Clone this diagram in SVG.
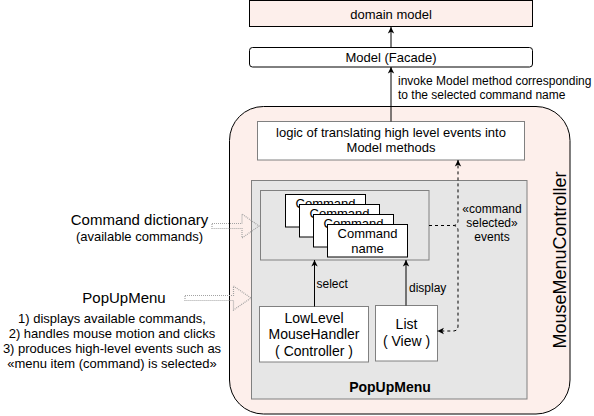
<svg xmlns="http://www.w3.org/2000/svg" width="594" height="416" viewBox="0 0 594 416">
<style>
text{font-family:"Liberation Sans",Arial,Helvetica,sans-serif;fill:#000}
.c{text-anchor:middle}
.t13{font-size:13px}
.t12{font-size:12px}
.t14{font-size:14px}
.box{fill:#fff;stroke:#000;stroke-width:1}
.gbox{fill:#fff;stroke:#808080;stroke-width:1}
.grey{fill:#e6e6e6;stroke:#808080;stroke-width:1}
.pink{fill:#fdefeb;stroke:#000;stroke-width:1}
.edge{fill:none;stroke:#000;stroke-width:1}
.dash{fill:none;stroke:#000;stroke-width:1;stroke-dasharray:3 3}
.hollow{fill:none;stroke:#a3a3a3;stroke-width:1.2;stroke-dasharray:1 1}
</style>
<defs>
<marker id="arr" viewBox="0 0 10 10" refX="9" refY="5" markerWidth="8" markerHeight="8" markerUnits="userSpaceOnUse" orient="auto">
<path d="M1,1 L9,5 L1,9 L3,5 z" fill="#000"/>
</marker>
</defs>

<g id="domain-model">
<rect class="pink" x="249.5" y="0.5" width="283" height="26"/>
<text class="c t13" x="391" y="19">domain model</text>
</g>

<g id="model-facade">
<rect class="box" x="249.5" y="47.5" width="283" height="19.5" rx="3"/>
<text class="c t13" x="391" y="62">Model (Facade)</text>
</g>

<g id="mouse-menu-controller">
<rect class="pink" x="229.5" y="106.5" width="340.5" height="307.5" rx="34"/>
<text transform="translate(566,260) rotate(-90)" class="c" style="font-size:18px" x="0" y="0">MouseMenuController</text>
</g>

<g id="logic">
<rect class="gbox" x="257.5" y="121.5" width="267" height="38.5"/>
<text class="c t13" x="391" y="137">logic of translating high level events into</text>
<text class="c t13" x="391" y="152">Model methods</text>
</g>

<g id="popupmenu">
<rect class="grey" x="251.5" y="180.5" width="275.5" height="218.5"/>
<text class="c" style="font-size:14px;font-weight:bold" x="390" y="392">PopUpMenu</text>
</g>

<g id="commands">
<rect class="grey" x="260.5" y="190.5" width="168.5" height="69.5"/>
<g id="card1">
<rect class="box" x="285.5" y="194.5" width="80" height="32.5"/>
<text class="c t13" x="325.5" y="208.2">Command</text>
</g>
<g id="card2">
<rect class="box" x="299.5" y="204.5" width="80" height="32.5"/>
<text class="c t13" x="339.5" y="218.2">Command</text>
</g>
<g id="card3">
<rect class="box" x="313.5" y="214.5" width="80" height="32.5"/>
<text class="c t13" x="353.5" y="228.2">Command</text>
</g>
<g id="card4">
<rect class="box" x="327.5" y="224.5" width="80" height="32.5"/>
<text class="c t13" x="367.5" y="238">Command</text>
<text class="c t13" x="367.5" y="252.5">name</text>
</g>
</g>

<g id="lowlevel">
<rect class="gbox" x="259.5" y="306.5" width="109" height="55.5"/>
<text class="c t14" x="314" y="322.5">LowLevel</text>
<text class="c t14" x="314" y="339">MouseHandler</text>
<text class="c t14" x="314" y="355.5">( Controller )</text>
</g>

<g id="list">
<rect class="gbox" x="375.5" y="305.5" width="62" height="55.5"/>
<text class="c t14" x="406.5" y="329">List</text>
<text class="c t14" x="406.5" y="346">( View )</text>
</g>

<g id="left-command-dictionary">
<text class="c" style="font-size:15px" x="139.5" y="225">Command dictionary</text>
<text class="c t13" x="139.5" y="241">(available commands)</text>
</g>

<g id="left-popupmenu">
<text class="c" style="font-size:15px" x="124" y="302.5">PopUpMenu</text>
<text class="c t13" x="112" y="322.5">1) displays available commands,</text>
<text class="c t13" x="112" y="337.5">2) handles mouse motion and clicks</text>
<text class="c t13" x="112" y="352.5">3) produces high-level events such as</text>
<text class="c t13" x="112" y="367.8">«menu item (command) is selected»</text>
</g>

<g id="connectors">
<path class="edge" d="M391,47.5 V27" marker-end="url(#arr)"/>
<path class="edge" d="M391,121.5 V67" marker-end="url(#arr)"/>
<text class="t12" x="398" y="85">invoke Model method corresponding</text>
<text class="t12" x="398" y="99">to the selected command name</text>
<path class="edge" d="M314.5,306.5 V260" marker-end="url(#arr)"/>
<text class="t12" x="316.5" y="287.5">select</text>
<path class="edge" d="M406,305.5 V260" marker-end="url(#arr)"/>
<text class="t12" x="409" y="291.5">display</text>
<path class="dash" d="M429,225.5 H453 Q458,225.5 458,220.5 V160" marker-end="url(#arr)"/>
<path class="dash" d="M429,225.5 H453 Q458,225.5 458,230.5 V326 Q458,331 453,331 H437.5" marker-end="url(#arr)"/>
<text class="c t12" x="492" y="213">«command</text>
<text class="c t12" x="492" y="227.3">selected»</text>
<text class="c t12" x="492" y="241">events</text>
<polygon class="hollow" points="212,223.5 242,223.5 242,214 259,226 242,238 242,228.5 212,228.5"/>
<polygon class="hollow" points="185,295.5 233.5,295.5 233.5,286 251,298 233.5,310 233.5,300.5 185,300.5"/>
</g>
</svg>
